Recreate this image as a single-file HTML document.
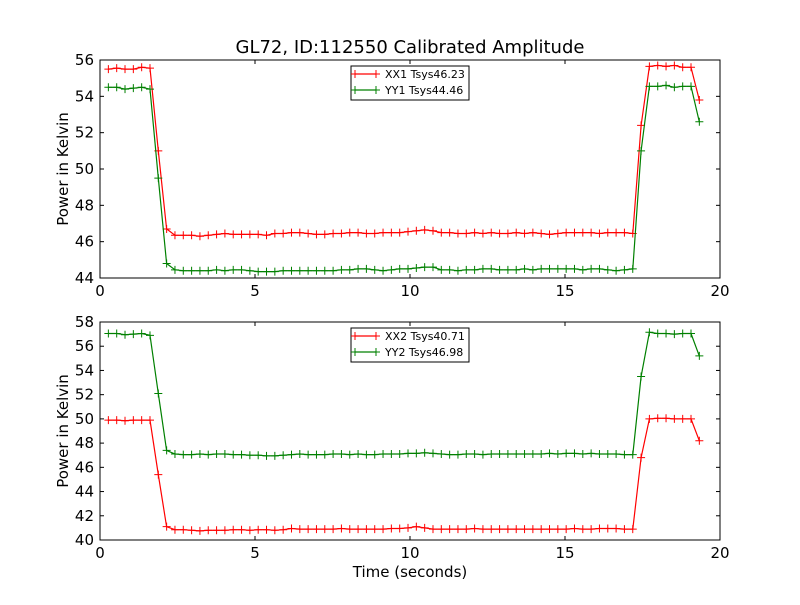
<!DOCTYPE html>
<html><head><meta charset="utf-8"><style>
body{margin:0;background:#fff;}
svg text{font-family:"DejaVu Sans","Liberation Sans",sans-serif;}
</style></head><body>
<svg id="c" width="800" height="600" xmlns="http://www.w3.org/2000/svg"></svg>
<script>
const times = [];
for (let i = 0; i < 72; i++) times.push(0.27 + 0.2685 * i);
const xx1 = [55.5,55.55,55.5,55.5,55.6,55.55,51.0,46.7,
46.35,46.35,46.35,46.3,46.35,46.4,46.45,46.4,
46.4,46.4,46.4,46.35,46.45,46.45,46.5,46.5,
46.45,46.4,46.4,46.45,46.45,46.5,46.5,46.45,
46.45,46.5,46.5,46.5,46.55,46.6,46.65,46.6,
46.5,46.5,46.45,46.45,46.5,46.45,46.5,46.45,
46.45,46.5,46.45,46.5,46.45,46.4,46.45,46.5,
46.5,46.5,46.5,46.45,46.5,46.5,46.5,46.45,
52.4,55.65,55.7,55.65,55.7,55.6,55.6,53.8];
const yy1 = [54.5,54.5,54.4,54.45,54.5,54.4,49.5,44.8,
44.45,44.4,44.4,44.4,44.4,44.45,44.4,44.45,
44.45,44.4,44.35,44.35,44.35,44.4,44.4,44.4,
44.4,44.4,44.4,44.4,44.45,44.45,44.5,44.5,
44.45,44.4,44.45,44.5,44.5,44.55,44.6,44.6,
44.45,44.45,44.4,44.45,44.45,44.5,44.5,44.45,
44.45,44.45,44.5,44.45,44.5,44.5,44.5,44.5,
44.5,44.45,44.5,44.5,44.45,44.4,44.45,44.5,
51.0,54.55,54.55,54.6,54.5,54.55,54.55,52.6];
const xx2 = [49.9,49.9,49.85,49.9,49.9,49.9,45.4,41.1,
40.85,40.85,40.8,40.75,40.8,40.8,40.8,40.85,
40.85,40.8,40.85,40.85,40.8,40.85,40.95,40.9,
40.9,40.9,40.9,40.9,40.95,40.9,40.9,40.9,
40.9,40.9,40.95,40.95,41.0,41.1,41.0,40.9,
40.9,40.9,40.9,40.9,40.95,40.9,40.9,40.9,
40.9,40.9,40.9,40.9,40.9,40.9,40.9,40.9,
40.95,40.9,40.9,40.95,40.95,40.95,40.9,40.9,
46.8,50.0,50.05,50.05,50.0,50.0,50.0,48.2];
const yy2 = [57.05,57.05,56.95,57.0,57.05,56.9,52.1,47.4,
47.1,47.05,47.05,47.1,47.05,47.1,47.1,47.05,
47.05,47.0,47.0,46.95,46.95,47.0,47.05,47.1,
47.05,47.05,47.05,47.1,47.1,47.05,47.1,47.05,
47.05,47.1,47.1,47.1,47.15,47.15,47.2,47.15,
47.1,47.05,47.05,47.1,47.1,47.05,47.1,47.1,
47.1,47.1,47.1,47.1,47.1,47.15,47.1,47.15,
47.15,47.1,47.15,47.1,47.1,47.1,47.05,47.05,
53.5,57.15,57.05,57.05,57.0,57.05,57.05,55.2];
const xTicks = [0,5,10,15,20];
const yTicksTop = [44,46,48,50,52,54,56];
const yTicksBot = [40,42,44,46,48,50,52,54,56,58];

const svg = document.getElementById('c');
const NS = 'http://www.w3.org/2000/svg';
function mk(tag, attrs, parent){const e=document.createElementNS(NS,tag);for(const k in attrs)e.setAttribute(k,attrs[k]);(parent||svg).appendChild(e);return e;}

function panel(name, top, bottom, ymin, ymax, yTicks, s1, s2, n1, n2){
  const L=100,R=720;
  const g=mk('g',{});
  
  
  const xs=v=>L+(v-0)/(20-0)*(R-L);
  const ys=v=>bottom-(v-ymin)/(ymax-ymin)*(bottom-top);
  mk('rect',{x:L,y:top,width:R-L,height:bottom-top,fill:'#fff',stroke:'none'},g);
  const series=[[s1,'#ff0000',n1],[s2,'#008000',n2]];
  series.forEach(([vals,col,nm])=>{
    const pts=vals.map((v,i)=>xs(times[i]).toFixed(1)+','+ys(v).toFixed(1)).join(' ');
    const pl=mk('polyline',{points:pts,fill:'none',stroke:col,'stroke-width':1.2},g);
    
    
    let d='';
    vals.forEach((v,i)=>{const x=xs(times[i]),y=ys(v);d+=`M${x-4},${y}h8M${x},${y-4}v8`;});
    mk('path',{d:d,stroke:col,'stroke-width':1,fill:'none'},g);
  });
  mk('rect',{x:L,y:top,width:R-L,height:bottom-top,fill:'none',stroke:'#000','stroke-width':1},g);
  xTicks.forEach(t=>{
    const x=xs(t);
    mk('line',{x1:x,x2:x,y1:bottom,y2:bottom-4,stroke:'#000'},g);
    mk('line',{x1:x,x2:x,y1:top,y2:top+4,stroke:'#000'},g);
    const tx=mk('text',{x:x,y:bottom+18,'font-size':15,'text-anchor':'middle'},g);
    tx.textContent=t;
    
    
  });
  yTicks.forEach(t=>{
    const y=ys(t);
    mk('line',{x1:L,x2:L+4,y1:y,y2:y,stroke:'#000'},g);
    mk('line',{x1:R,x2:R-4,y1:y,y2:y,stroke:'#000'},g);
    const tx=mk('text',{x:L-6,y:y+5,'font-size':15,'text-anchor':'end'},g);
    tx.textContent=t;
    
    
  });
  const yl=mk('text',{x:0,y:0,'font-size':15,'text-anchor':'middle',transform:`translate(68,${(top+bottom)/2}) rotate(-90)`},g);
  yl.textContent='Power in Kelvin';
  
  
  // legend
  const lg=mk('g',{},g);
  
  
  const ly=top+6;
  mk('rect',{x:351,y:ly,width:118,height:34,fill:'#fff',stroke:'#000'},lg);
  series.forEach(([v,col,nm],k)=>{
    const y=ly+8+k*16;
    mk('line',{x1:355,x2:376,y1:y,y2:y,stroke:col,'stroke-width':1.2},lg);
    mk('path',{d:`M351,${y}h8M355,${y-4}v8M372,${y}h8M376,${y-4}v8`,stroke:col},lg);
    const t=mk('text',{x:385,y:y+4,'font-size':11},lg);
    t.textContent=nm;
    
    
  });
}
panel('top-panel',60,278,44,56,yTicksTop,xx1,yy1,'XX1 Tsys46.23','YY1 Tsys44.46');
panel('bottom-panel',322,540,40,58,yTicksBot,xx2,yy2,'XX2 Tsys40.71','YY2 Tsys46.98');
const title=mk('text',{x:410,y:53,'font-size':18,'text-anchor':'middle'});
title.textContent='GL72, ID:112550 Calibrated Amplitude';


const xl=mk('text',{x:410,y:577,'font-size':15,'text-anchor':'middle'});
xl.textContent='Time (seconds)';


</script>
</body></html>
